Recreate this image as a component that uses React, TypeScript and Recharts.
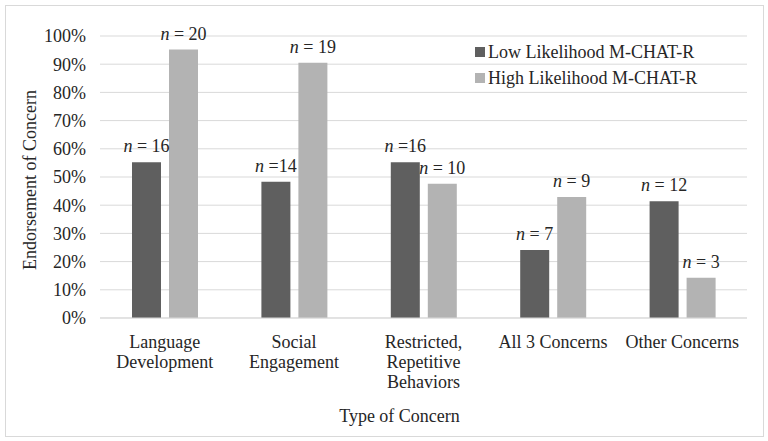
import { Bar, BarChart, CartesianGrid, Label, LabelList, XAxis, YAxis } from "recharts";

const categories = [
  "Language\nDevelopment",
  "Social\nEngagement",
  "Restricted,\nRepetitive\nBehaviors",
  "All 3 Concerns",
  "Other Concerns",
];
const lowValues = [55.2, 48.3, 55.2, 24.1, 41.4];
const highValues = [95.2, 90.5, 47.6, 42.9, 14.3];
const lowLabels = [" = 16", " =14", " =16", " = 7", " = 12"];
const highLabels = [" = 20", " = 19", " = 10", " = 9", " = 3"];
const yTicks = [0, 10, 20, 30, 40, 50, 60, 70, 80, 90, 100];

const rows = categories.map((name, i) => ({
  name,
  low: lowValues[i],
  high: highValues[i],
  lowLabel: lowLabels[i],
  highLabel: highLabels[i],
}));

// below 18px this font falls back to a sans face here, so keep it at 18
const FONT = "'Liberation Serif'";
const SIZE = 18;
const TEXT = "#262626";
const LOW = "#5f5f5f";
const HIGH = "#b3b3b3";

function CategoryTick(props: any) {
  const { x, y, payload } = props;
  const lines = String(payload.value).split("\n");
  return (
    <text x={x} y={y + 28} textAnchor="middle" fill={TEXT} style={{ fontFamily: FONT, fontSize: SIZE }}>
      {lines.map((line, i) => (
        <tspan key={i} x={x} dy={i === 0 ? 0 : 20}>
          {line}
        </tspan>
      ))}
    </text>
  );
}

function NLabel(props: any) {
  const { x, y, width, value } = props;
  return (
    <text x={x + width / 2} y={y - 10} textAnchor="middle" fill={TEXT} style={{ fontFamily: FONT, fontSize: SIZE }}>
      <tspan fontStyle="italic">n</tspan>
      {value}
    </text>
  );
}

function LegendBox() {
  const items = [
    { label: "Low Likelihood M-CHAT-R", color: LOW },
    { label: "High Likelihood M-CHAT-R", color: HIGH },
  ];
  return (
    <div style={{ position: "absolute", left: 475, top: 39, fontFamily: FONT, fontSize: SIZE, color: TEXT }}>
      {items.map((it) => (
        <div key={it.label} style={{ display: "flex", alignItems: "center", height: 26 }}>
          <span style={{ width: 10, height: 10, background: it.color, marginRight: 3, display: "inline-block" }} />
          {it.label}
        </div>
      ))}
    </div>
  );
}

export default function App() {
  return (
    <div style={{ position: "absolute", left: 0, top: 0, width: 768, height: 441, background: "#fff", fontFamily: FONT }}>
      <div
        style={{
          position: "absolute",
          left: 5,
          top: 5,
          width: 757,
          height: 430,
          border: "1px solid #d9d9d9",
        }}
      />
      <BarChart
        width={768}
        height={441}
        data={rows}
        margin={{ top: 36, right: 21, left: 40, bottom: 19 }}
        barGap={8}
        barSize={29}
        style={{ fontFamily: FONT }}
      >
        <CartesianGrid vertical={false} stroke="#d9d9d9" />
        <XAxis
          dataKey="name"
          height={104}
          tickLine={false}
          tickSize={0}
          axisLine={{ stroke: "#d9d9d9" }}
          tick={<CategoryTick />}
          interval={0}
        >
          <Label
            value="Type of Concern"
            position="insideBottom"
            offset={0}
            dx={-24}
            fill={TEXT}
            style={{ fontFamily: FONT, fontSize: SIZE }}
          />
        </XAxis>
        <YAxis
          width={60}
          domain={[0, 100]}
          ticks={yTicks}
          tickFormatter={(v) => `${v}%`}
          axisLine={false}
          tickLine={false}
          tickSize={0}
          tickMargin={14}
          tick={{ fill: TEXT, style: { fontFamily: FONT, fontSize: SIZE } }}
        >
          <Label
            content={() => (
              <text
                x={30}
                y={180}
                transform="rotate(-90 30 180)"
                textAnchor="middle"
                dominantBaseline="central"
                fill={TEXT}
                style={{ fontFamily: FONT, fontSize: SIZE }}
              >
                Endorsement of Concern
              </text>
            )}
          />
        </YAxis>
        <Bar dataKey="low" name="Low Likelihood M-CHAT-R" fill={LOW} isAnimationActive={false}>
          <LabelList dataKey="lowLabel" content={<NLabel />} />
        </Bar>
        <Bar dataKey="high" name="High Likelihood M-CHAT-R" fill={HIGH} isAnimationActive={false}>
          <LabelList dataKey="highLabel" content={<NLabel />} />
        </Bar>
      </BarChart>
      <LegendBox />
    </div>
  );
}
